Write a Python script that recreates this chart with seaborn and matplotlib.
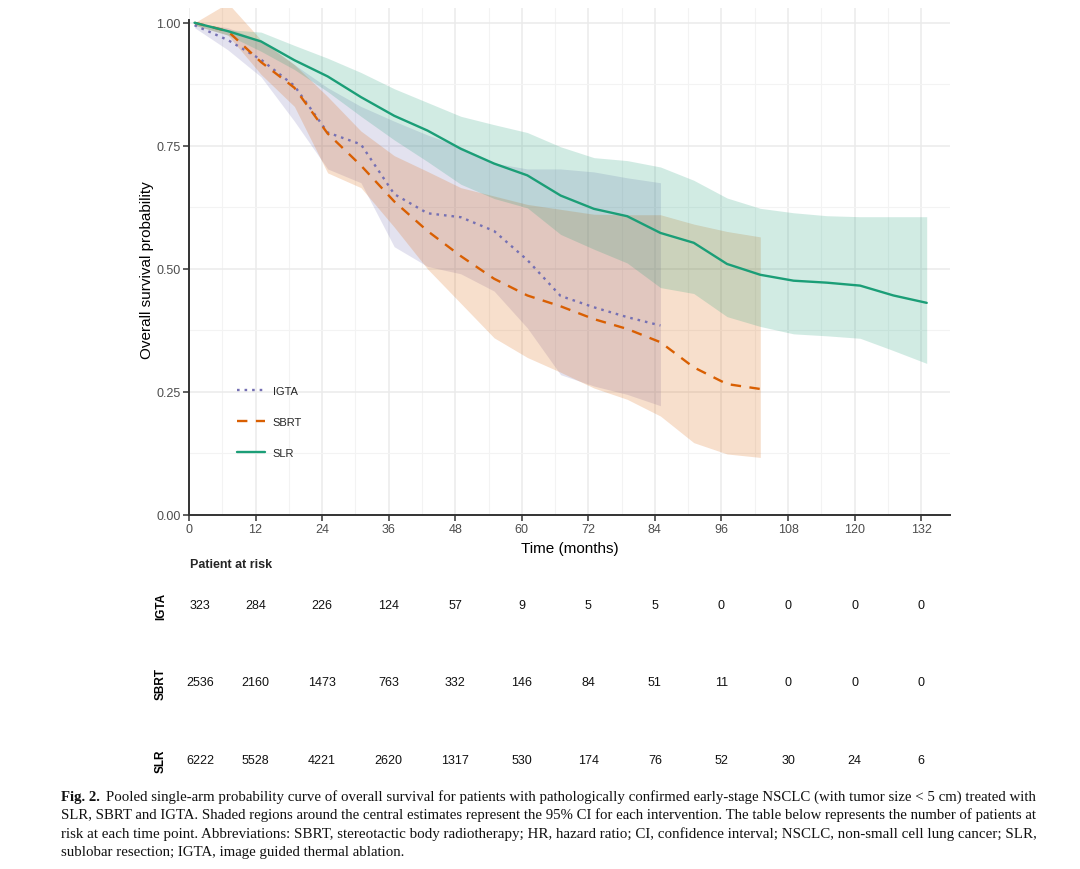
import numpy as np
import pandas as pd
import matplotlib
matplotlib.use("Agg")
import matplotlib.pyplot as plt
from matplotlib.lines import Line2D
from matplotlib.ticker import FormatStrFormatter
import seaborn as sns

# ---------------- data ----------------
groups = ["IGTA", "SBRT", "SLR"]
palette = {"IGTA": "#7570B3", "SBRT": "#D95F02", "SLR": "#1B9E77"}

igta_time = [1, 7, 13, 19, 25, 31, 37, 43, 49, 55, 61, 67, 73, 79, 85]
igta_est = [0.995, 0.965, 0.925, 0.872, 0.777, 0.753, 0.652, 0.613, 0.605, 0.577, 0.518, 0.445, 0.422, 0.402, 0.385]
igta_lo = [0.99, 0.945, 0.89, 0.80, 0.703, 0.675, 0.545, 0.505, 0.49, 0.455, 0.38, 0.285, 0.262, 0.245, 0.222]
igta_hi = [1.0, 0.99, 0.963, 0.915, 0.868, 0.83, 0.80, 0.772, 0.748, 0.715, 0.703, 0.703, 0.697, 0.685, 0.675]

sbrt_time = [1, 7, 13, 19, 25, 31, 37, 43, 49, 55, 61, 67, 73, 79, 85, 91, 97, 103]
sbrt_est = [1.0, 0.983, 0.92, 0.868, 0.775, 0.71, 0.637, 0.577, 0.526, 0.48, 0.446, 0.424, 0.398, 0.378, 0.351, 0.30, 0.266, 0.256]
sbrt_lo = [0.995, 0.975, 0.895, 0.83, 0.695, 0.665, 0.585, 0.50, 0.43, 0.36, 0.32, 0.29, 0.258, 0.235, 0.201, 0.147, 0.124, 0.117]
sbrt_hi = [1.0, 1.04, 0.965, 0.915, 0.85, 0.78, 0.73, 0.698, 0.665, 0.648, 0.631, 0.621, 0.611, 0.610, 0.610, 0.591, 0.576, 0.565]

slr_time = [1, 7, 13, 19, 25, 31, 37, 43, 49, 55, 61, 67, 73, 79, 85, 91, 97, 103, 109, 115, 121, 127, 133]
slr_est = [1.0, 0.983, 0.962, 0.924, 0.891, 0.849, 0.811, 0.781, 0.744, 0.714, 0.690, 0.649, 0.622, 0.607, 0.573, 0.553, 0.510, 0.488, 0.476, 0.472, 0.466, 0.446, 0.431]
slr_lo = [0.995, 0.975, 0.942, 0.905, 0.86, 0.81, 0.762, 0.718, 0.672, 0.643, 0.624, 0.570, 0.540, 0.512, 0.462, 0.450, 0.403, 0.383, 0.368, 0.364, 0.359, 0.334, 0.308]
slr_hi = [1.0, 0.986, 0.981, 0.954, 0.928, 0.899, 0.866, 0.838, 0.810, 0.793, 0.777, 0.748, 0.726, 0.720, 0.707, 0.680, 0.644, 0.623, 0.614, 0.608, 0.606, 0.606, 0.606]

risk_times = [0, 12, 24, 36, 48, 60, 72, 84, 96, 108, 120, 132]
igta_risk = [323, 284, 226, 124, 57, 9, 5, 5, 0, 0, 0, 0]
sbrt_risk = [2536, 2160, 1473, 763, 332, 146, 84, 51, 11, 0, 0, 0]
slr_risk = [6222, 5528, 4221, 2620, 1317, 530, 174, 76, 52, 30, 24, 6]

caption_bold = "Fig. 2."
caption_lines = [
    "Pooled single-arm probability curve of overall survival for patients with pathologically confirmed early-stage NSCLC (with tumor size < 5 cm) treated with",
    "SLR, SBRT and IGTA. Shaded regions around the central estimates represent the 95% CI for each intervention. The table below represents the number of patients at",
    "risk at each time point. Abbreviations: SBRT, stereotactic body radiotherapy; HR, hazard ratio; CI, confidence interval; NSCLC, non-small cell lung cancer; SLR,",
    "sublobar resection; IGTA, image guided thermal ablation.",
]

# ---------------- build tables ----------------
curves = {
    "IGTA": (igta_time, igta_est, igta_lo, igta_hi),
    "SBRT": (sbrt_time, sbrt_est, sbrt_lo, sbrt_hi),
    "SLR": (slr_time, slr_est, slr_lo, slr_hi),
}
df = pd.concat(
    [pd.DataFrame({"time": c[0], "surv": c[1], "lo": c[2], "hi": c[3], "group": g})
     for g, c in curves.items()],
    ignore_index=True,
)
risk = {"IGTA": igta_risk, "SBRT": sbrt_risk, "SLR": slr_risk}

# ---------------- style ----------------
sns.set_theme(style="white")
plt.rcParams["font.family"] = ["Liberation Sans", "DejaVu Sans"]

W, H = 1080, 870
fig = plt.figure(figsize=(W / 100, H / 100), dpi=100)

ax_left, ax_right, ax_bottom, ax_top = 189, 950, 516, 9
ax = fig.add_axes([ax_left / W, 1 - ax_bottom / H, (ax_right - ax_left) / W, (ax_bottom - ax_top) / H])
XMAX = 137.2
YMAX = 1.03

dashes = {"IGTA": (1.1, 2.1), "SBRT": (4.4, 3.6), "SLR": ""}
LW = 1.7

for g in groups:
    sub = df[df.group == g]
    ax.fill_between(sub["time"], sub["lo"], sub["hi"], color=palette[g], alpha=0.2, lw=0, zorder=1)

sns.lineplot(data=df, x="time", y="surv", hue="group", style="group",
             hue_order=groups, style_order=groups, palette=palette, dashes=dashes,
             linewidth=LW, estimator=None, sort=False, legend=False, ax=ax, zorder=3)

ax.set_xlim(0, XMAX)
ax.set_ylim(0, YMAX)
ax.set_xticks(risk_times)
ax.set_xticks(np.arange(6, XMAX, 12), minor=True)
ax.set_yticks([0, 0.25, 0.5, 0.75, 1.0])
ax.set_yticks([0.125, 0.375, 0.625, 0.875], minor=True)
ax.yaxis.set_major_formatter(FormatStrFormatter("%.2f"))
ax.grid(which="major", color="#EBEBEB", lw=1.1, zorder=0)
ax.grid(which="minor", color="#F3F3F3", lw=0.8, zorder=0)
ax.set_axisbelow(True)
for s in ["top", "right"]:
    ax.spines[s].set_visible(False)
for s in ["left", "bottom"]:
    ax.spines[s].set_color("#333333")
    ax.spines[s].set_linewidth(1.4)
ax.spines["left"].set_bounds(0, 1.005)
ax.tick_params(axis="both", which="major", direction="out", length=4, width=1.1,
               color="#333333", labelsize=9, labelcolor="#4D4D4D", pad=2,
               left=True, bottom=True)
ax.tick_params(axis="both", which="minor", length=0)
ax.set_xlabel("Time (months)", fontsize=11, color="black", labelpad=4)
ax.set_ylabel("Overall survival probability", fontsize=11, color="black")
ax.yaxis.set_label_coords((154 - ax_left) / (ax_right - ax_left), (ax_bottom - 270) / (ax_bottom - ax_top))

handles = []
for g in groups:
    if dashes[g] == "":
        handles.append(Line2D([], [], color=palette[g], lw=LW, linestyle="-"))
    else:
        handles.append(Line2D([], [], color=palette[g], lw=LW, dashes=dashes[g]))
ax.legend(handles, groups, loc="center left", bbox_to_anchor=(237 / W, 1 - 423 / H),
          bbox_transform=fig.transFigure, frameon=False, fontsize=8, handlelength=2.5,
          handletextpad=0.7, labelspacing=1.88, borderpad=0, borderaxespad=0)

# ---------------- risk table ----------------
t_top, t_bottom = 580, 780
tax = fig.add_axes([ax_left / W, 1 - t_bottom / H, (ax_right - ax_left) / W, (t_bottom - t_top) / H])
tax.set_xlim(0, XMAX)
row_step = 77.5
tax.set_ylim(-(t_bottom - 761) / row_step, (761 - t_top) / row_step)
row_pos = {"IGTA": 2, "SBRT": 1, "SLR": 0}
col_x = np.clip(np.array(risk_times, dtype=float), 2, None)  # first column sits just inside the panel
for g in groups:
    for x, n in zip(col_x, risk[g]):
        tax.text(x, row_pos[g], str(n), ha="center", va="center", fontsize=9, color="#111111")
tax.set_yticks([row_pos[g] for g in groups])
tax.set_yticklabels(groups, rotation=90, va="center", fontweight="bold", fontsize=8.5, color="black")
tax.tick_params(axis="y", length=0, pad=16)
tax.set_xticks([])
for s in tax.spines.values():
    s.set_visible(False)
tax.patch.set_alpha(0)

fig.text(190 / W, 1 - 565 / H, "Patient at risk", ha="left", va="center", fontsize=9, fontweight="bold")

# ---------------- caption: one text per line, size chosen to fill the text block ----------------
fig.canvas.draw()
renderer = fig.canvas.get_renderer()
cap_font = ["Liberation Serif", "DejaVu Serif"]
base_size = 10.6
cap_x0, cap_x1 = 61, 1038
baselines = [801, 819.5, 838, 856]
cand_sizes = np.arange(9.6, 11.6, 0.02)

lead = fig.text(cap_x0 / W, 1 - baselines[0] / H, caption_bold, fontsize=base_size,
                family=cap_font, fontweight="bold", ha="left", va="baseline", color="#111111")
lead_w = lead.get_window_extent(renderer).width + 0.45 * base_size * 100 / 72

chosen = []
for i, line in enumerate(caption_lines):
    x0 = cap_x0 + (lead_w if i == 0 else 0)
    t = fig.text(x0 / W, 1 - baselines[i] / H, line, fontsize=base_size, family=cap_font,
                 ha="left", va="baseline", color="#111111")
    if i < len(caption_lines) - 1:
        best_s, best_err = base_size, 1e9
        for s in cand_sizes:
            t.set_fontsize(float(s))
            w = t.get_window_extent(renderer).width
            err = (cap_x1 - x0) - w
            if 0 <= err < best_err:
                best_s, best_err = float(s), err
        t.set_fontsize(best_s)
        chosen.append(best_s)
    else:
        t.set_fontsize(float(np.mean(chosen)))

fig.savefig("out.png", dpi=100)
